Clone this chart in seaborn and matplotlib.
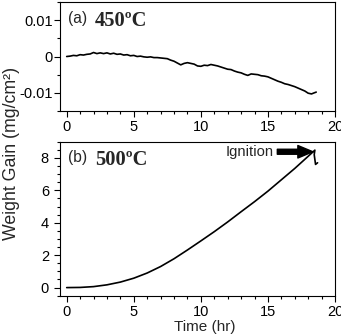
import matplotlib
matplotlib.use("Agg")
import matplotlib.pyplot as plt
import seaborn as sns
from matplotlib.ticker import MultipleLocator, FuncFormatter

# ---- data -------------------------------------------------------------
time_a = [0.00, 0.25, 0.50, 0.75, 1.00, 1.25, 1.50, 1.75, 2.00, 2.25, 2.50, 2.75,
          3.00, 3.25, 3.50, 3.75, 4.00, 4.25, 4.50, 4.75, 5.00, 5.25, 5.50, 5.75,
          6.00, 6.25, 6.50, 6.75, 7.00, 7.25, 7.50, 7.75, 8.00, 8.25, 8.50, 8.75,
          9.00, 9.25, 9.50, 9.75, 10.00, 10.25, 10.50, 10.75, 11.00, 11.25, 11.50,
          11.75, 12.00, 12.25, 12.50, 12.75, 13.00, 13.25, 13.50, 13.75, 14.00,
          14.25, 14.50, 14.75, 15.00, 15.25, 15.50, 15.75, 16.00, 16.25, 16.50,
          16.75, 17.00, 17.25, 17.50, 17.75, 18.00, 18.25, 18.45, 18.60]
gain_a = [0.0000, 0.0001, 0.0003, 0.0002, 0.0005, 0.0004, 0.0006, 0.0007, 0.0011,
          0.0008, 0.0010, 0.0008, 0.0010, 0.0007, 0.0009, 0.0006, 0.0007, 0.0004,
          0.0005, 0.0002, 0.0003, 0.0000, 0.0001, -0.0001, -0.0002, -0.0001,
          -0.0003, -0.0003, -0.0004, -0.0005, -0.0006, -0.0010, -0.0013, -0.0018,
          -0.0023, -0.0019, -0.0017, -0.0019, -0.0021, -0.0026, -0.0027, -0.0024,
          -0.0025, -0.0022, -0.0024, -0.0026, -0.0029, -0.0032, -0.0035, -0.0036,
          -0.0040, -0.0043, -0.0045, -0.0049, -0.0052, -0.0048, -0.0049, -0.0050,
          -0.0053, -0.0054, -0.0056, -0.0060, -0.0064, -0.0068, -0.0071, -0.0075,
          -0.0077, -0.0080, -0.0083, -0.0087, -0.0091, -0.0095, -0.0101, -0.0103,
          -0.0100, -0.0098]

time_b = [0, 1, 2, 3, 4, 5, 6, 7, 8, 9, 10, 11, 12, 13, 14, 15, 16, 17, 18,
          18.5, 18.45, 18.55, 18.7]
gain_b = [0.0, 0.01, 0.06, 0.17, 0.34, 0.58, 0.90, 1.30, 1.78, 2.32, 2.88, 3.45,
          4.05, 4.68, 5.30, 5.95, 6.65, 7.35, 8.10, 8.48, 8.20, 7.60, 7.70]

x_ticks = [0, 5, 10, 15, 20]
y_ticks_a = [-0.01, 0, 0.01]
y_ticks_b = [0, 2, 4, 6, 8]

# ---- style ------------------------------------------------------------
sns.set_style("ticks")
plt.rcParams['font.family'] = ['Liberation Sans', 'DejaVu Sans']
plt.rcParams['axes.unicode_minus'] = False
plt.rcParams['axes.edgecolor'] = 'black'
plt.rcParams['axes.linewidth'] = 0.8

fig = plt.figure(figsize=(3.41, 3.35), dpi=100)
ax1 = fig.add_axes([60/341, (335-111)/335, 275/341, 109/335])
ax2 = fig.add_axes([60/341, (335-295.7)/335, 275/341, 154/335])

sns.lineplot(x=time_a, y=gain_a, ax=ax1, color='black', lw=1.2,
             sort=False, estimator=None)
sns.lineplot(x=time_b, y=gain_b, ax=ax2, color='black', lw=1.2,
             sort=False, estimator=None)

fmt = FuncFormatter(lambda v, p: '0' if abs(v) < 1e-12 else f'{v:g}')
for ax in (ax1, ax2):
    ax.set_xlim(-0.5, 20)
    ax.set_xticks(x_ticks)
    ax.xaxis.set_minor_locator(MultipleLocator(1))
    ax.tick_params(which='major', direction='out', length=4.5, width=0.8,
                   labelsize=10.5, colors='black')
    ax.tick_params(which='minor', direction='out', length=2.3, width=0.8,
                   colors='black')
    ax.tick_params(axis='x', pad=2)
    ax.set_xlabel('')
    ax.set_ylabel('')
    ax.xaxis.set_major_formatter(fmt)
    ax.yaxis.set_major_formatter(fmt)
    for s in ax.spines.values():
        s.set_visible(True)
        s.set_color('black')
        s.set_linewidth(0.8)

ax1.set_ylim(-0.015, 0.015)
ax1.set_yticks(y_ticks_a)
ax1.yaxis.set_minor_locator(MultipleLocator(0.005))
ax1.tick_params(axis='y', pad=0.5)

ax2.set_ylim(-0.5, 9)
ax2.set_yticks(y_ticks_b)
ax2.yaxis.set_minor_locator(MultipleLocator(0.5))
ax2.tick_params(axis='y', pad=3.5)

# panel labels
ax1.text(0.029, 0.81, '(a)', transform=ax1.transAxes, fontsize=11.2,
         ha='left', va='baseline')
ax1.text(0.127, 0.78, '450ºC', transform=ax1.transAxes, fontsize=14.8,
         fontweight='bold', family=['Liberation Serif', 'DejaVu Serif'],
         ha='left', va='baseline')
ax2.text(0.03, 0.866, '(b)', transform=ax2.transAxes, fontsize=11.2,
         ha='left', va='baseline')
ax2.text(0.127, 0.849, '500ºC', transform=ax2.transAxes, fontsize=14.8,
         fontweight='bold', family=['Liberation Serif', 'DejaVu Serif'],
         ha='left', va='baseline')

# ignition annotation
ax2.text(15.4, 8.38, 'Ignition', fontsize=10.7, ha='right', va='center')
ax2.annotate('', xy=(18.35, 8.38), xytext=(15.7, 8.38),
             arrowprops=dict(arrowstyle='simple,head_length=0.9,head_width=0.75,tail_width=0.3',
                             color='black', mutation_scale=12, shrinkA=0, shrinkB=0))

fig.text(0.035, 0.542, 'Weight Gain (mg/cm²)', rotation=90, ha='center',
         va='center', fontsize=12.8)
fig.text(0.601, 0.024, 'Time (hr)', ha='center', va='center', fontsize=11)

fig.savefig('out.png', dpi=100)
